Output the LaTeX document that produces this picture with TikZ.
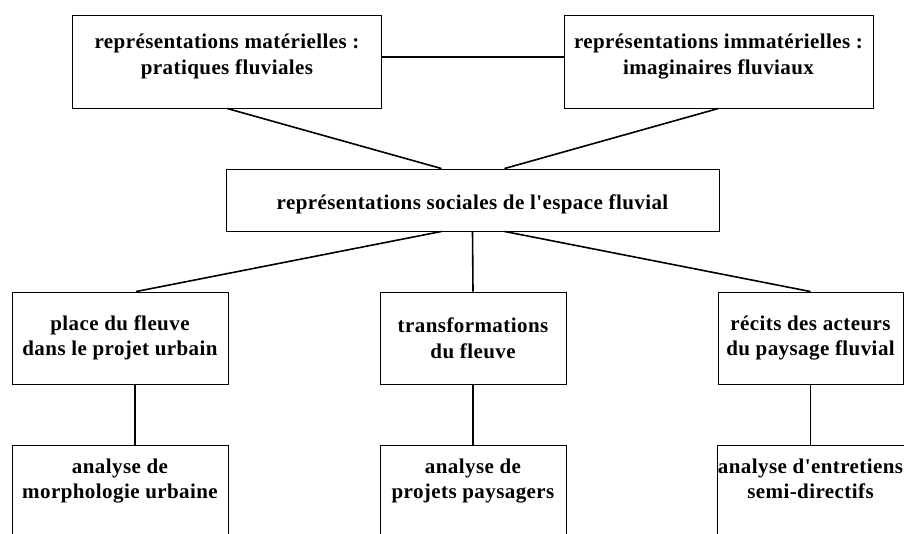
\documentclass[tikz,border=0pt]{standalone}
\usepackage{fontspec}
\setmainfont{Liberation Serif}[Ligatures=TeXOff,LetterSpace=2]
\usetikzlibrary{positioning}

\begin{document}
\begin{tikzpicture}[x=1pt,y=-1pt,node distance=61pt,
                    box/.style={rectangle,draw,line width=0.9pt,inner xsep=1pt,inner ysep=13pt,
                                align=center,font=\fontsize{21}{25.5}\selectfont\bfseries},
                    method/.style={box,minimum width=#1,text depth=31pt},
                    link/.style={line width=1.6pt}]
  \useasboundingbox (0,0) rectangle (904,533);
  \clip (0,0) rectangle (904,533);

  \node[box,minimum width=309pt,minimum height=93pt,text depth=15pt] (mat) at (227,61.5) {représentations matérielles :\\pratiques fluviales};
  \node[box,minimum width=309pt,minimum height=93pt,text depth=15pt] (imm) at (718.5,61.5) {représentations immatérielles :\\imaginaires fluviaux};
  \node[box,minimum width=493pt,minimum height=62pt,text height=24pt] (soc) at (472.5,200) {représentations sociales de l'espace fluvial};

  \node[box,minimum width=216pt,minimum height=92pt] (place) at (120,338) {place du fleuve\\dans le projet urbain};
  \node[box,minimum width=186pt,minimum height=92pt] (transf) at (473,338) {transformations\\du fleuve};
  \node[box,minimum width=185pt,minimum height=92pt] (recits) at (810.5,338) {récits des acteurs\\du paysage fluvial};

  \node[method=216pt] (morpho) [below=of place] {analyse de\\morphologie urbaine};
  \node[method=186pt] (projets) [below=of transf] {analyse de\\projets paysagers};
  \node[method=185pt] (entret) [below=of recits] {analyse d'entretiens\\semi-directifs};

  \draw[link] ([yshift=4.5pt]mat.east) -- ([yshift=4.5pt]imm.west);
  \draw[link] (mat.south) -- ([xshift=-31pt]soc.north);
  \draw[link] (imm.south) -- ([xshift=32pt]soc.north);
  \draw[link] ([xshift=-31pt]soc.south) -- ([xshift=16pt]place.north);
  \draw[link] (soc.south) -- (transf.north);
  \draw[link] ([xshift=32pt]soc.south) -- (recits.north);
  \draw[link] ([xshift=15pt]place.south) -- ([xshift=15pt]morpho.north);
  \draw[link] (transf.south) -- (projets.north);
  \draw[link] (recits.south) -- (entret.north);
\end{tikzpicture}
\end{document}
